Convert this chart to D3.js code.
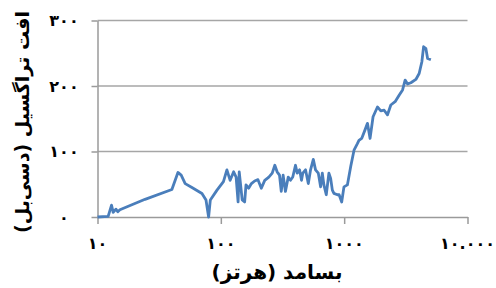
<!DOCTYPE html>
<html>
<head>
<meta charset="utf-8">
<script src="https://cdn.jsdelivr.net/npm/d3@7"></script>
<style>
  body { margin: 0; background: #fff; }
  svg { display: block; }
  text { font-family: "DejaVu Sans", sans-serif; fill: #000; }
</style>
</head>
<body>
<div id="chart"></div>
<script>
// frequency (Hz) and transmission loss (dB)
const freqs = [10, 12.2, 13, 13.4, 14.1, 14.6, 15.2, 24.3, 40.1, 44.9, 47.7, 51.4, 58.3, 70.3, 75.8, 79.6, 82.2, 93.1,
  105, 112, 119, 127, 133, 138, 141, 149, 156, 160, 168, 177, 188, 200, 213, 227, 245, 261, 274, 286, 299, 309,
  320, 334, 352, 367, 383, 403, 416, 435, 451, 462, 486, 512, 534, 562, 586, 617, 644, 665, 685, 716, 752, 777,
  802, 826, 881, 910, 955, 996, 1062, 1130, 1202, 1280, 1318, 1387, 1476, 1545, 1622, 1715, 1862, 1982, 2109,
  2246, 2389, 2588, 2790, 2976, 3121, 3266, 3474, 3813, 4056, 4266, 4406, 4600, 4747, 5047];
const loss = [0, 1, 18, 7, 12, 8, 11, 27, 42, 68, 64, 51, 45, 36, 26, 0, 26, 41,
  54, 72, 56, 69, 61, 23, 69, 26, 23, 49, 44, 51, 55, 57, 44, 56, 61, 67, 79, 69, 64, 39,
  64, 39, 61, 56, 61, 79, 67, 72, 56, 67, 72, 51, 72, 88, 72, 67, 46, 67, 49, 34, 67, 59,
  41, 36, 34, 34, 23, 46, 49, 77, 102, 112, 117, 120, 133, 143, 120, 153, 168, 162, 163,
  156, 171, 176, 186, 194, 209, 203, 205, 210, 219, 237, 260, 257, 242, 240];

const xTicks = [10, 100, 1000, 10000];
const xTickLabels = ["۱۰", "۱۰۰", "۱۰۰۰", "۱۰.۰۰۰"];
const yTicks = [0, 100, 200, 300];
const yTickLabels = ["۰", "۱۰۰", "۲۰۰", "۳۰۰"];
const xTitle = "بسامد (هرتز)";
const yTitle = "افت تراگسیل (دسی‌بل)";

const chart = {
  width: 496,
  height: 288,
  margin: { top: 20.5, right: 28.5, bottom: 71, left: 97.5 },
};

const x = d3.scaleLog()
  .domain([10, 10000])
  .range([chart.margin.left, chart.width - chart.margin.right]);

const y = d3.scaleLinear()
  .domain([0, 300])
  .range([chart.height - chart.margin.bottom, chart.margin.top]);

const svg = d3.select("#chart")
  .append("svg")
  .attr("width", chart.width)
  .attr("height", chart.height);

// horizontal gridlines
svg.append("g")
  .selectAll("line")
  .data(yTicks.slice(1))
  .join("line")
  .attr("x1", x(10))
  .attr("x2", x(10000))
  .attr("y1", d => y(d))
  .attr("y2", d => y(d))
  .attr("stroke", "#a6a6a6")
  .attr("stroke-width", 1.5);

// y axis
svg.append("g")
  .attr("transform", `translate(${x(10)},0)`)
  .call(d3.axisLeft(y)
    .tickValues(yTicks)
    .tickFormat("")
    .tickSize(6)
    .tickSizeOuter(0));

// x axis
svg.append("g")
  .attr("transform", `translate(0,${y(0)})`)
  .call(d3.axisBottom(x)
    .tickValues(xTicks)
    .tickFormat("")
    .tickSize(7)
    .tickSizeOuter(0));

svg.selectAll(".domain, .tick line")
  .attr("stroke", "#9a9a9a")
  .attr("stroke-width", 1.5);

// tick labels
svg.append("g")
  .selectAll("text")
  .data(yTicks)
  .join("text")
  .attr("x", 64)
  .attr("y", d => y(d))
  .attr("dy", "0.35em")
  .attr("text-anchor", "middle")
  .attr("font-size", 16)
  .attr("font-weight", "bold")
  .text((d, i) => yTickLabels[i]);

svg.append("g")
  .selectAll("text")
  .data(xTicks)
  .join("text")
  .attr("x", d => x(d))
  .attr("y", 249)
  .attr("text-anchor", "middle")
  .attr("font-size", 16)
  .attr("font-weight", "bold")
  .text((d, i) => xTickLabels[i]);

// axis titles
svg.append("text")
  .attr("x", 277)
  .attr("y", 279)
  .attr("text-anchor", "middle")
  .attr("direction", "rtl")
  .attr("font-size", 20)
  .attr("font-weight", "bold")
  .text(xTitle);

svg.append("text")
  .attr("transform", `translate(29,122) rotate(-90)`)
  .attr("text-anchor", "middle")
  .attr("direction", "rtl")
  .attr("font-size", 19)
  .attr("font-weight", "bold")
  .text(yTitle);

// the curve
const line = d3.line()
  .x((d, i) => x(freqs[i]))
  .y(d => y(d));

svg.append("path")
  .datum(loss)
  .attr("fill", "none")
  .attr("stroke", "#4a7ebb")
  .attr("stroke-width", 2.8)
  .attr("stroke-linejoin", "round")
  .attr("d", line);
</script>
</body>
</html>
